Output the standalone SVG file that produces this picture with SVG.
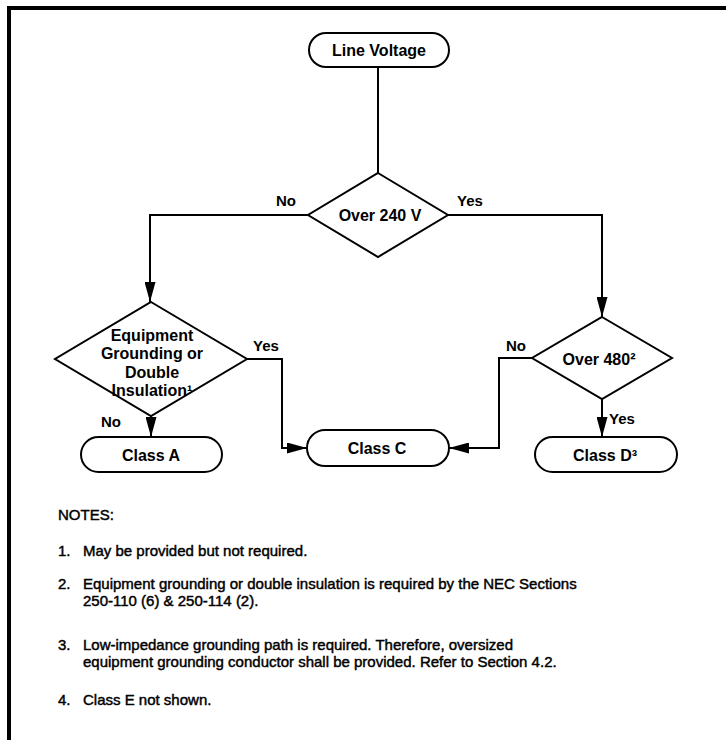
<svg xmlns="http://www.w3.org/2000/svg" width="726" height="740" viewBox="0 0 726 740">
<style>
.box{fill:#fff;stroke:#000;stroke-width:2}
.ln{fill:none;stroke:#000;stroke-width:2}
.t{font-family:"Liberation Sans",Arial,sans-serif;font-weight:bold;font-size:16px;fill:#000;text-anchor:middle}
.lb{font-family:"Liberation Sans",Arial,sans-serif;font-weight:bold;font-size:15px;fill:#000;text-anchor:middle}
.n{font-family:"Liberation Sans",Arial,sans-serif;font-size:15px;fill:#000;stroke:#000;stroke-width:0.45}
</style>
<defs>
<marker id="ah" markerUnits="userSpaceOnUse" markerWidth="20" markerHeight="11" refX="20" refY="5.5" orient="auto">
<path d="M0,0 L20,5.5 L0,11 z" fill="#000"/>
</marker>
</defs>
<rect width="726" height="740" fill="#fff"/>
<path d="M9,740 V8 H726" fill="none" stroke="#000" stroke-width="4"/>

<g id="connectors">
<path class="ln" d="M378,67 V173"/>
<path class="ln" d="M308,215 H150 V302" marker-end="url(#ah)"/>
<path class="ln" d="M448,215 H602 V317" marker-end="url(#ah)"/>
<path class="ln" d="M247,359 H282 V448 H307" marker-end="url(#ah)"/>
<path class="ln" d="M151,416 V437" marker-end="url(#ah)"/>
<path class="ln" d="M532,358 H499 V448 H449" marker-end="url(#ah)"/>
<path class="ln" d="M602,399 V437" marker-end="url(#ah)"/>
<text class="lb" x="286" y="206">No</text>
<text class="lb" x="470" y="206">Yes</text>
<text class="lb" x="266" y="351">Yes</text>
<text class="lb" x="111" y="427">No</text>
<text class="lb" x="516" y="351">No</text>
<text class="lb" x="622" y="424">Yes</text>
</g>

<g id="line-voltage">
<rect class="box" x="309" y="33" width="140" height="34" rx="17"/>
<text class="t" x="379" y="56">Line Voltage</text>
</g>
<g id="over-240">
<polygon class="box" points="378,173 448,215 378,257 308,215"/>
<text class="t" x="380" y="221">Over 240 V</text>
</g>
<g id="equipment-grounding">
<polygon class="box" points="151,302 247,359 151,416 55,359"/>
<text class="t" x="152" y="341">Equipment</text>
<text class="t" x="152" y="359">Grounding or</text>
<text class="t" x="152" y="378">Double</text>
<text class="t" x="152" y="396">Insulation¹</text>
</g>
<g id="over-480">
<polygon class="box" points="602,317 672,358 602,399 532,358"/>
<text class="t" x="599" y="365">Over 480²</text>
</g>
<g id="class-a">
<rect class="box" x="81" y="437" width="141" height="35" rx="17.5"/>
<text class="t" x="151" y="461">Class A</text>
</g>
<g id="class-c">
<rect class="box" x="307" y="430" width="142" height="36" rx="18"/>
<text class="t" x="377" y="454">Class C</text>
</g>
<g id="class-d">
<rect class="box" x="535" y="437" width="142" height="35" rx="17.5"/>
<text class="t" x="605" y="461">Class D³</text>
</g>

<g id="notes">
<text class="n" x="58" y="520">NOTES:</text>
<text class="n" x="58" y="556">1.</text>
<text class="n" x="83" y="556">May be provided but not required.</text>
<text class="n" x="58" y="589">2.</text>
<text class="n" x="83" y="589">Equipment grounding or double insulation is required by the NEC Sections</text>
<text class="n" x="83" y="606">250-110 (6) &amp; 250-114 (2).</text>
<text class="n" x="58" y="650">3.</text>
<text class="n" x="83" y="650">Low-impedance grounding path is required. Therefore, oversized</text>
<text class="n" x="83" y="667">equipment grounding conductor shall be provided. Refer to Section 4.2.</text>
<text class="n" x="58" y="705">4.</text>
<text class="n" x="83" y="705">Class E not shown.</text>
</g>
</svg>
